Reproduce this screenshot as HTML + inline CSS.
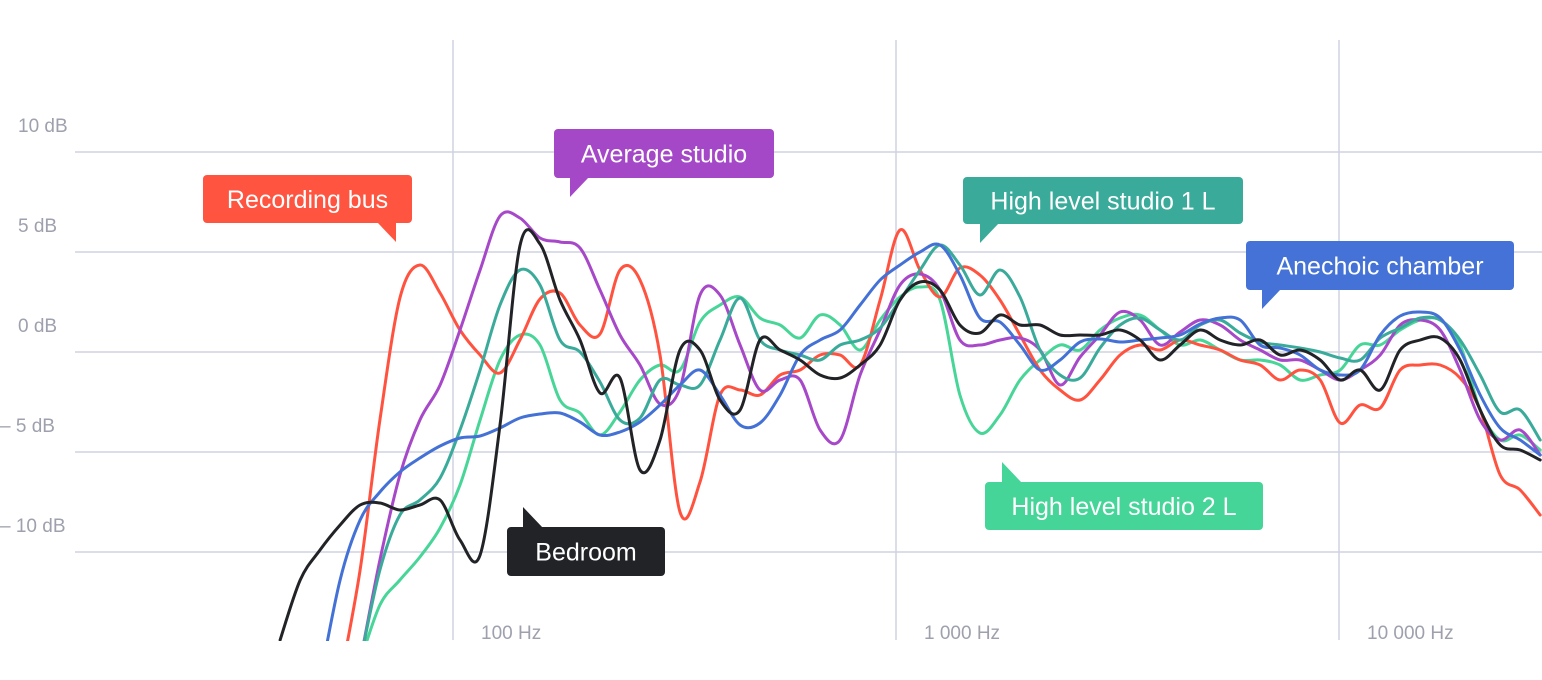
<!DOCTYPE html>
<html><head><meta charset="utf-8">
<style>
html,body{margin:0;padding:0;background:#fff;}
svg{display:block;font-family:"Liberation Sans",sans-serif;}
</style></head>
<body>
<svg id="chart" width="1542" height="680" viewBox="0 0 1542 680" xmlns="http://www.w3.org/2000/svg">
<defs><clipPath id="plotclip"><rect x="0" y="0" width="1542" height="641"/></clipPath></defs>
<g id="grid"></g>
<g id="axes"></g>
<g id="series" clip-path="url(#plotclip)"></g>
<g id="labels"></g>
</svg>
<script>
const freqs = [40.7,45.2,50.1,55.6,61.7,68.4,75.9,84.2,93.5,103.7,115.1,127.7,141.6,157.2,174.4,193.5,214.7,238.2,264.3,293.3,325.4,361.1,400.7,444.6,493.3,547.4,607.4,673.9,747.8,829.8,920.7,1021,1133,1257,1394,1547,1717,1905,2114,2346,2603,2888,3205,3556,3946,4378,4858,5390,5981,6637,7364,8171,9067,10060,11160,12390,13740,15250,16920,18770,20830,23110,25640,28450];
const recordingBus = [null,null,null,-16.4,-10.9,-3.4,2.7,4.35,2.95,1.1,-0.15,-1.05,0.6,2.65,2.95,1.35,0.9,4.1,3.6,-0.15,-8.0,-6.5,-2.15,-1.9,-2.15,-1.15,-0.9,-0.15,-0.15,-0.65,2.6,6.1,4.1,2.75,4.2,3.85,2.6,0.85,-0.9,-1.9,-2.4,-1.4,-0.15,0.35,0.1,0.6,0.35,0.1,-0.4,-0.65,-1.4,-0.9,-1.4,-3.55,-2.65,-2.8,-0.9,-0.65,-0.65,-1.3,-2.9,-6.15,-6.9,-8.15];
const averageStudio = [null,null,null,null,-15.5,-10.4,-6.15,-3.4,-1.65,1.1,4.1,6.8,6.7,5.7,5.5,5.2,3.1,0.85,-0.65,-2.6,-1.8,2.85,2.85,0.35,-1.9,-1.4,-1.4,-3.9,-4.4,-1.15,1.1,3.35,3.9,3.1,0.6,0.35,0.6,0.7,0.1,-1.65,-0.25,0.85,2.0,1.6,0.35,1.0,1.6,1.35,0.6,0.1,-0.4,-0.4,-0.9,-1.4,-0.9,-0.15,1.35,1.6,1.1,-0.9,-3.4,-4.4,-3.9,-5.15];
const bedroom = [-14.4,-11.4,-9.9,-8.65,-7.65,-7.55,-7.9,-7.65,-7.4,-9.4,-10.15,-3.65,5.3,5.4,2.6,0.6,-2.05,-1.3,-5.9,-4.4,0.1,0.1,-2.4,-2.9,0.6,0.1,-0.4,-1.15,-1.3,-0.65,0.35,2.6,3.5,3.1,1.35,0.95,1.85,1.35,1.35,0.85,0.85,0.85,1.1,0.6,-0.4,0.35,1.1,0.6,0.35,0.6,-0.15,0.1,-0.4,-1.4,-0.9,-1.9,0.1,0.6,0.7,-0.4,-2.9,-4.65,-4.9,-5.4];
const highLevel1 = [null,null,null,null,-15.5,-10.9,-8.15,-7.4,-6.3,-3.9,-0.9,2.35,4.1,3.35,0.6,0,-1.5,-3.4,-3.3,-1.4,-1.65,-1.65,0.6,2.7,0.6,0.1,-0.15,-0.4,0.35,0.6,1.2,2.6,4.1,5.35,4.35,2.85,4.1,2.75,0.1,-1.15,-1.3,0.2,1.35,1.7,1.1,0.6,1.35,1.6,0.95,0.5,0.35,0.2,0,-0.3,-0.4,0.7,1.2,1.7,1.6,0.6,-1.15,-3.0,-2.9,-4.4];
const highLevel2 = [null,null,null,null,-15.5,-12.65,-11.4,-10.25,-8.8,-6.65,-3.4,-0.4,0.85,0.35,-2.4,-3.05,-4.15,-3.0,-1.4,-0.65,-0.9,1.5,2.35,2.75,1.7,1.35,0.7,1.85,1.35,0.1,1.6,2.75,3.25,2.6,-2.15,-4.05,-3.15,-1.4,-0.4,0.35,0.1,1.1,1.7,1.85,1.1,0.35,0.6,0.1,-0.4,-0.4,-0.65,-1.4,-1.15,-0.9,0.35,0.35,1.1,1.6,1.6,0.35,-2.9,-4.4,-4.15,-4.9];
const anechoic = [null,null,-16.4,-11.4,-8.4,-7.0,-6.0,-5.3,-4.7,-4.3,-4.2,-3.8,-3.3,-3.1,-3.05,-3.5,-4.15,-4.0,-3.5,-2.65,-1.65,-0.9,-2.15,-3.65,-3.55,-2.15,-0.15,0.6,1.1,2.35,3.6,4.35,5.0,5.35,3.85,1.7,1.5,0.35,-0.9,-0.4,0.5,0.65,0.5,0.6,0.7,0.85,1.4,1.7,1.6,0.35,0.2,-0.15,-0.9,-1.15,-0.9,0.85,1.8,2.0,1.7,0.1,-2.15,-3.8,-4.4,-5.15];
const yTicks = [10,5,0,-5,-10];
const yTickLabels = ["10 dB","5 dB","0 dB","– 5 dB","– 10 dB"];
const xTicks = [100,1000,10000];
const xTickLabels = ["100 Hz","1 000 Hz","10 000 Hz"];

const NS="http://www.w3.org/2000/svg";
function xScale(f){return 453+(Math.log10(f)-2)*443;}
function yScale(d){return 352-d*20;}
function mk(tag,attrs,parent){const e=document.createElementNS(NS,tag);for(const k in attrs)e.setAttribute(k,attrs[k]);parent.appendChild(e);return e;}

const grid=document.getElementById('grid'), axes=document.getElementById('axes');
yTicks.forEach((t,i)=>{
  const l=mk('line',{x1:75,x2:1542,y1:yScale(t),y2:yScale(t),stroke:'#cfd3e0','stroke-width':1.5},grid);
  
  
  const tx=mk('text',{x:yTickLabels[i].startsWith('–')?0:18,y:yScale(t)-20,fill:'#9ea1ad','font-size':19},axes);
  tx.textContent=yTickLabels[i];
  
  
});
xTicks.forEach((t,i)=>{
  const x=xScale(t);
  const l=mk('line',{x1:x,x2:x,y1:40,y2:640,stroke:'#cfd3e0','stroke-width':1.5},grid);
  
  
  const tx=mk('text',{x:x+28,y:639,fill:'#9ea1ad','font-size':19},axes);
  tx.textContent=xTickLabels[i];
  
  
});

function pathFor(vals){
  const pts=[];
  vals.forEach((v,i)=>{if(v!==null)pts.push([xScale(freqs[i]),yScale(v)]);});
  let d='M'+pts[0][0].toFixed(1)+','+pts[0][1].toFixed(1);
  for(let i=0;i<pts.length-1;i++){
    const p0=pts[Math.max(0,i-1)],p1=pts[i],p2=pts[i+1],p3=pts[Math.min(pts.length-1,i+2)];
    const c1x=p1[0]+(p2[0]-p0[0])/6,c1y=p1[1]+(p2[1]-p0[1])/6;
    const c2x=p2[0]-(p3[0]-p1[0])/6,c2y=p2[1]-(p3[1]-p1[1])/6;
    d+=' C'+c1x.toFixed(1)+','+c1y.toFixed(1)+' '+c2x.toFixed(1)+','+c2y.toFixed(1)+' '+p2[0].toFixed(1)+','+p2[1].toFixed(1);
  }
  return d;
}
const seriesG=document.getElementById('series');
const seriesList=[
  [highLevel2,'#48d598','line-high-level-studio-2-l'],
  [recordingBus,'#ff5340','line-recording-bus'],
  [averageStudio,'#a748c9','line-average-studio'],
  [highLevel1,'#3aab9a','line-high-level-studio-1-l'],
  [anechoic,'#4471d6','line-anechoic-chamber'],
  [bedroom,'#222327','line-bedroom']
];
seriesList.forEach(s=>{
  const p=mk('path',{d:pathFor(s[0]),fill:'none',stroke:s[1],'stroke-width':3,'stroke-linejoin':'round','stroke-linecap':'round'},seriesG);
  
  
});

const labelsG=document.getElementById('labels');
// [text,color,x,y,w,h,pointer type,px,name]
const labelDefs=[
  ['Recording bus','#ff5540',203,175,209,48,'br',396,'label-recording-bus'],
  ['Average studio','#a548c8',554,129,220,49,'bl',570,'label-average-studio'],
  ['High level studio 1 L','#3aab9a',963,177,280,47,'bl',980,'label-high-level-studio-1-l'],
  ['Anechoic chamber','#4472d6',1246,241,268,49,'bl',1262,'label-anechoic-chamber'],
  ['High level studio 2 L','#46d598',985,482,278,48,'tl',1002,'label-high-level-studio-2-l'],
  ['Bedroom','#222327',507,527,158,49,'tl',523,'label-bedroom']
];
labelDefs.forEach(L=>{
  const [t,c,x,y,w,h,pt,px,name]=L;
  const g=mk('g',{},labelsG);
  
  
  mk('rect',{x:x,y:y,width:w,height:h,rx:4,fill:c},g);
  let pts;
  if(pt==='br') pts=`${px},${y+h-1} ${px},${y+h+19} ${px-19},${y+h-1}`;
  else if(pt==='bl') pts=`${px},${y+h-1} ${px},${y+h+19} ${px+19},${y+h-1}`;
  else pts=`${px},${y+1} ${px},${y-20} ${px+20},${y+1}`;
  mk('polygon',{points:pts,fill:c},g);
  const tx=mk('text',{x:x+w/2,y:y+h/2+9,fill:'#fff','font-size':25,'text-anchor':'middle'},g);
  tx.textContent=t;
});
</script>
</body></html>
